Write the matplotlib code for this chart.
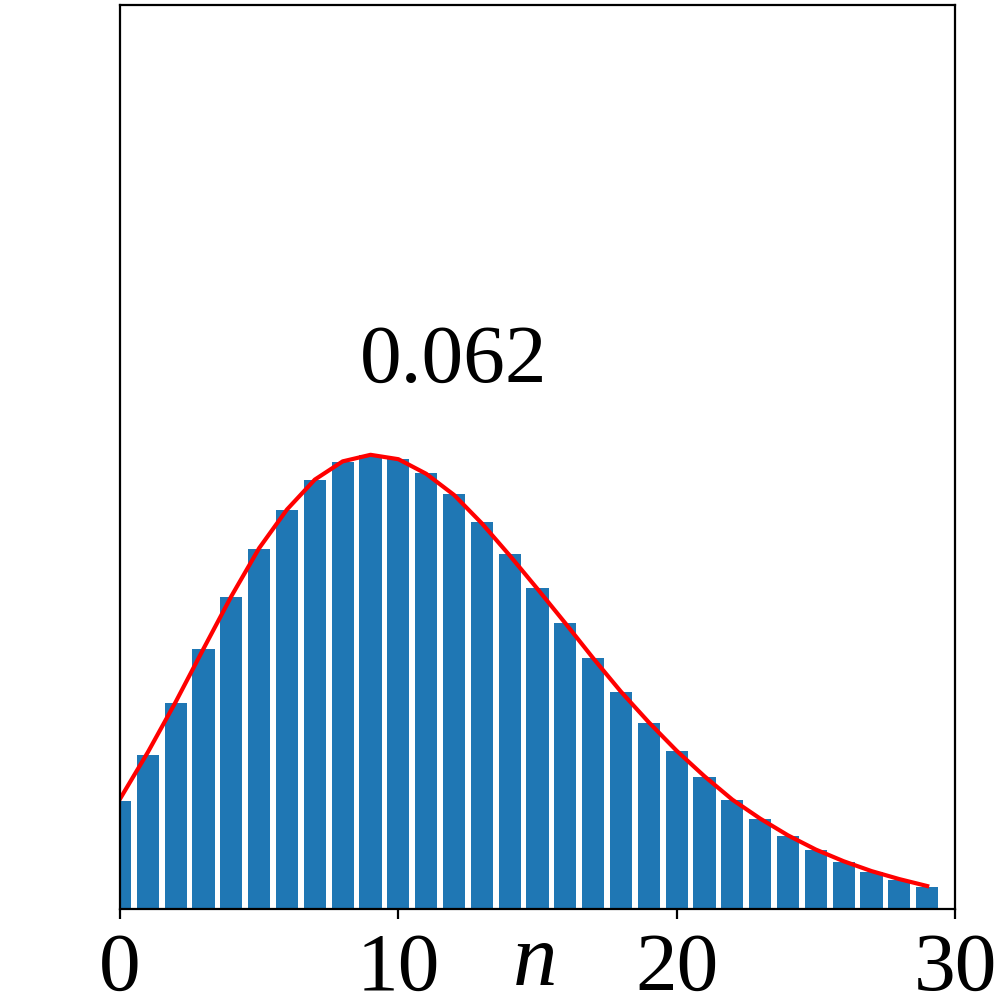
import matplotlib
matplotlib.use("Agg")
import matplotlib.pyplot as plt
import numpy as np

plt.rcParams['font.family'] = ['Liberation Serif', 'DejaVu Serif']

# значения
n_values = np.arange(30)
bar_heights = [0.01481, 0.02112, 0.02822, 0.03562, 0.04280, 0.04938, 0.05469, 0.05880,
               0.06127, 0.06227, 0.06173, 0.05976, 0.05692, 0.05308, 0.04865, 0.04403,
               0.03923, 0.03439, 0.02972, 0.02547, 0.02163, 0.01811, 0.01495, 0.01230,
               0.00997, 0.00805, 0.00645, 0.00508, 0.00398, 0.00302]
curve_values = [0.01510, 0.02150, 0.02840, 0.03570, 0.04290, 0.04950, 0.05480, 0.05890,
                0.06140, 0.06230, 0.06170, 0.05970, 0.05680, 0.05290, 0.04850, 0.04390,
                0.03920, 0.03440, 0.02980, 0.02560, 0.02170, 0.01820, 0.01500, 0.01240,
                0.01010, 0.00815, 0.00655, 0.00520, 0.00410, 0.00315]
peak_label = "0.062"
x_ticks = [0, 10, 20, 30]

fig = plt.figure(figsize=(5, 5), dpi=200)
ax = fig.add_axes([0.12, 0.091, 0.835, 0.904])

ax.bar(n_values, bar_heights, width=0.8, color='#1f77b4')
ax.plot(n_values, curve_values, color='red', lw=1.5)

ax.set_xlim(0, 30)
ax.set_ylim(0, 0.124)
ax.set_xticks(x_ticks)
ax.set_yticks([])
ax.tick_params(labelsize=30, pad=5)

ax.text(0.4, 0.583, peak_label, transform=ax.transAxes, ha='center', va='baseline', fontsize=30)

ax.set_xlabel('n', fontsize=32, style='italic', va='baseline')
ax.xaxis.set_label_coords(0.497, -0.084)

fig.savefig('out.png', dpi=200)
